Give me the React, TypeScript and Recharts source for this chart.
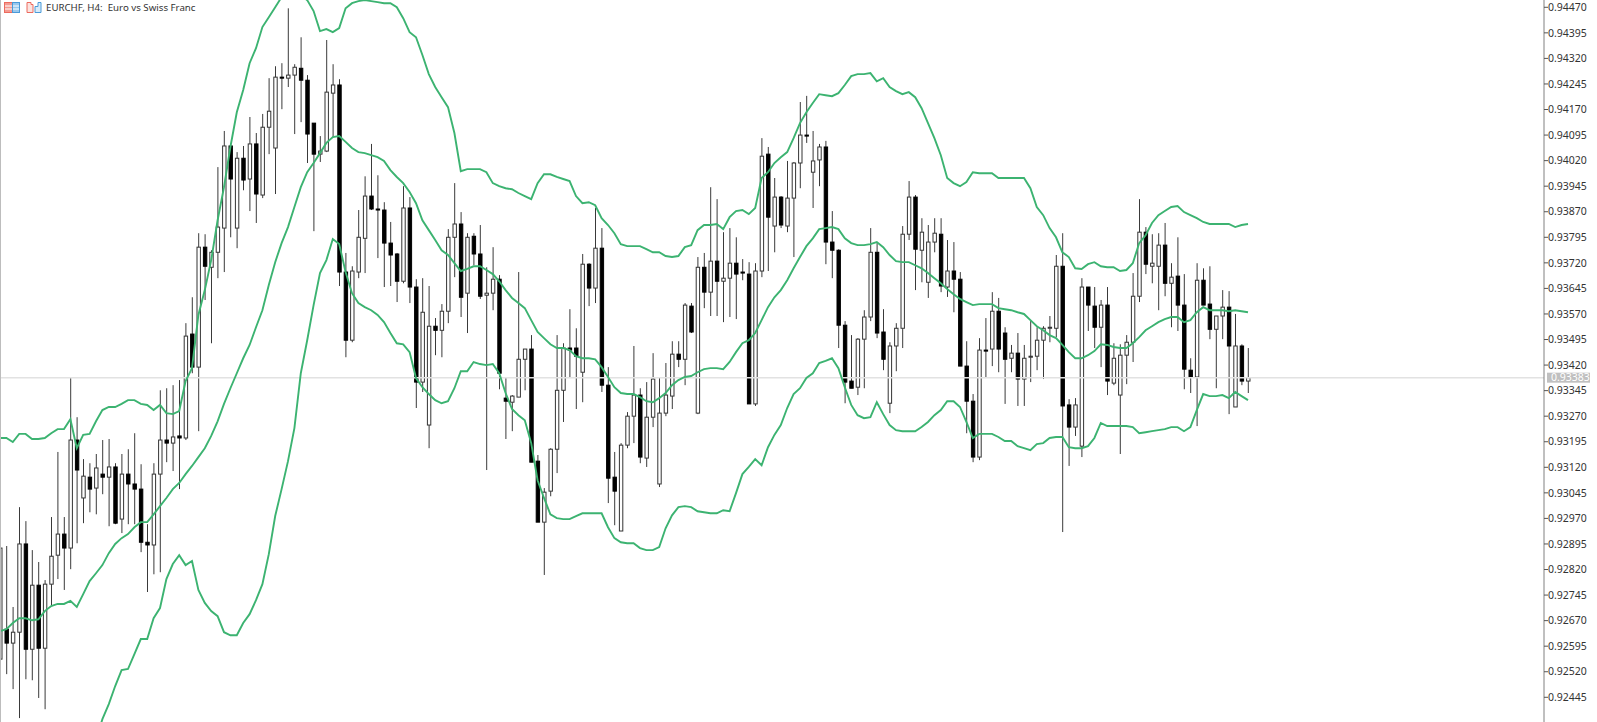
import { Bar, ComposedChart, Line, ReferenceLine, XAxis, YAxis } from 'recharts'

// prices are kept in points: 1 point = 0.00001
const opens = [
  92557, 92645, 92604, 92636, 92895, 92586, 92774, 92589, 92777, 92862, 92924, 92883, 93200, 93030,
  93091, 93059, 93100, 93091, 93121, 92968, 93100, 93071, 93056, 92900, 92892, 93100, 93200, 93191,
  93212, 93206, 93511, 93414, 93766, 93707, 93751, 93822, 94063, 93822, 94027, 93966, 94069, 93919,
  94118, 94057, 94265, 94262, 94271, 94291, 94256, 94130, 94039, 94048, 94218, 94242, 93693, 93493,
  93693, 93792, 93916, 93878, 93875, 93778, 93746, 93666, 93881, 93649, 93370, 93244, 93534, 93522,
  93578, 93795, 93834, 93631, 93798, 93746, 93625, 93631, 93672, 93323, 93311, 93326, 93437, 93467,
  93138, 92959, 93050, 93173, 93346, 93470, 93470, 93399, 93716, 93646, 93763, 93361, 93091, 92933,
  93185, 93270, 93332, 93147, 93267, 93071, 93279, 93329, 93452, 93437, 93593, 93279, 93707, 93634,
  93725, 93666, 93675, 93719, 93693, 93687, 93306, 93696, 94039, 93828, 93913, 93828, 93910, 94013,
  94095, 93986, 94022, 94060, 93781, 93757, 93537, 93373, 93355, 93496, 93561, 93751, 93517, 93308,
  93476, 93528, 93804, 93913, 93757, 93663, 93781, 93804, 93649, 93696, 93672, 93417, 93314, 93150,
  93464, 93467, 93578, 93514, 93440, 93455, 93379, 93443, 93446, 93493, 93528, 93528, 93710, 93303,
  93238, 93182, 93649, 93593, 93531, 93596, 93367, 93332, 93449, 93487, 93622, 93810, 93710, 93710,
  93772, 93660, 93681, 93596, 93405, 93385, 93669, 93599, 93525, 93564, 93590, 93297, 93476, 93373,
]
const highs = [
  92892, 92889, 92710, 93003, 92962, 92877, 92842, 92789, 92974, 93165, 92974, 93382, 93267, 93144,
  93132, 93159, 93200, 93203, 93132, 93159, 93173, 93220, 93129, 92953, 93132, 93346, 93352, 93361,
  93376, 93543, 93619, 93807, 93804, 93757, 94001, 94107, 94066, 94045, 94063, 94148, 94101, 94157,
  94262, 94297, 94306, 94467, 94303, 94382, 94271, 94130, 94092, 94374, 94303, 94259, 93749, 93710,
  93875, 93974, 94069, 93977, 93898, 93840, 93749, 93945, 93913, 93672, 93675, 93652, 93558, 93599,
  93819, 93954, 93869, 93807, 93807, 93831, 93707, 93766, 93684, 93382, 93332, 93693, 93467, 93508,
  93156, 93059, 93176, 93508, 93484, 93584, 93528, 93746, 93719, 93881, 93822, 93414, 93165, 93191,
  93282, 93476, 93352, 93370, 93455, 93382, 93426, 93490, 93490, 93602, 93602, 93737, 93749, 93942,
  93907, 93810, 93822, 93795, 93731, 93722, 93719, 94086, 94060, 93969, 93916, 94019, 94016, 94192,
  94210, 94107, 94069, 94078, 93872, 93760, 93549, 93508, 93499, 93581, 93822, 93778, 93584, 93487,
  93543, 93828, 93960, 93919, 93851, 93831, 93851, 93851, 93787, 93781, 93693, 93490, 93335, 93499,
  93558, 93634, 93617, 93531, 93479, 93514, 93479, 93552, 93531, 93534, 93564, 93743, 93807, 93320,
  93323, 93675, 93649, 93649, 93611, 93649, 93484, 93481, 93508, 93690, 93907, 93825, 93804, 93807,
  93837, 93719, 93795, 93687, 93440, 93719, 93704, 93710, 93564, 93640, 93637, 93570, 93481, 93470,
]
const lows = [
  92531, 92513, 92469, 92384, 92498, 92495, 92443, 92410, 92713, 92792, 92760, 92821, 92897, 92956,
  92988, 92982, 93041, 92947, 92953, 92927, 92953, 92953, 92871, 92754, 92806, 92812, 93135, 93109,
  93056, 93200, 93396, 93226, 93611, 93484, 93675, 93693, 93795, 93763, 93933, 93872, 93837, 93910,
  94039, 93922, 94171, 94236, 94098, 94133, 94013, 93813, 94016, 94045, 94089, 93652, 93443, 93487,
  93675, 93690, 93875, 93734, 93649, 93652, 93605, 93660, 93602, 93294, 93341, 93176, 93449, 93443,
  93543, 93678, 93561, 93514, 93713, 93614, 93112, 93581, 93349, 93203, 93226, 93326, 93346, 93135,
  92959, 92804, 93035, 93103, 93253, 93382, 93291, 93311, 93593, 93602, 93341, 93015, 92950, 92933,
  93176, 93191, 93132, 93121, 93238, 93062, 93270, 93291, 93414, 93361, 93514, 93276, 93587, 93564,
  93564, 93546, 93561, 93555, 93669, 93306, 93300, 93678, 93696, 93751, 93822, 93810, 93737, 93939,
  94072, 93881, 93945, 93716, 93675, 93470, 93308, 93352, 93332, 93352, 93549, 93499, 93405, 93279,
  93402, 93470, 93787, 93640, 93663, 93617, 93751, 93634, 93620, 93575, 93417, 93220, 93135, 93141,
  93382, 93417, 93399, 93306, 93399, 93300, 93300, 93370, 93405, 93379, 93487, 93502, 92930, 93124,
  93212, 93150, 93520, 93470, 93414, 93332, 93361, 93159, 93364, 93429, 93605, 93687, 93660, 93581,
  93622, 93531, 93520, 93349, 93338, 93241, 93596, 93496, 93352, 93496, 93276, 93297, 93361, 93338,
]
const closes = [
  92883, 92604, 92636, 92895, 92586, 92774, 92589, 92777, 92859, 92924, 92883, 93200, 93112, 93094,
  93056, 93118, 93091, 93121, 92956, 93100, 93071, 93056, 92900, 92892, 93100, 93200, 93191, 93209,
  93206, 93505, 93414, 93766, 93710, 93751, 93825, 94063, 93966, 94027, 93963, 94069, 93922, 94118,
  94165, 94265, 94262, 94271, 94294, 94256, 94098, 94039, 94048, 94221, 94242, 93693, 93493, 93696,
  93795, 93916, 93878, 93875, 93778, 93743, 93666, 93881, 93649, 93370, 93575, 93534, 93522, 93578,
  93795, 93834, 93619, 93795, 93746, 93622, 93631, 93672, 93396, 93314, 93329, 93437, 93467, 93135,
  92959, 93047, 93173, 93346, 93470, 93464, 93446, 93716, 93646, 93763, 93361, 93088, 93050, 93185,
  93270, 93332, 93150, 93267, 93379, 93279, 93332, 93452, 93437, 93596, 93517, 93707, 93634, 93725,
  93666, 93675, 93719, 93687, 93690, 93306, 93696, 94033, 93854, 93913, 93831, 93910, 94013, 94095,
  94092, 94019, 94060, 93781, 93757, 93537, 93370, 93352, 93496, 93561, 93751, 93514, 93437, 93476,
  93528, 93804, 93913, 93760, 93810, 93781, 93807, 93652, 93696, 93672, 93417, 93314, 93150, 93464,
  93461, 93578, 93467, 93437, 93455, 93379, 93440, 93446, 93493, 93528, 93531, 93710, 93300, 93238,
  93303, 93649, 93596, 93531, 93596, 93373, 93440, 93449, 93487, 93622, 93810, 93716, 93719, 93772,
  93660, 93678, 93596, 93408, 93385, 93669, 93596, 93525, 93564, 93590, 93476, 93476, 93373, 93383,
]

const upperBand = [
  93206, 93206, 93194, 93218, 93218, 93203, 93203, 93206, 93220, 93232, 93232, 93261, 93176, 93215,
  93218, 93255, 93288, 93297, 93297, 93306, 93317, 93317, 93306, 93303, 93288, 93303, 93279, 93276,
  93285, 93373, 93411, 93567, 93640, 93728, 93845, 93942, 94060, 94162, 94227, 94306, 94350, 94412,
  94441, 94470, 94500, 94520, 94520, 94506, 94491, 94459, 94400, 94406, 94397, 94409, 94467, 94482,
  94488, 94491, 94488, 94485, 94482, 94482, 94470, 94438, 94397, 94382, 94330, 94274, 94236, 94206,
  94177, 94101, 93989, 93995, 93995, 93995, 93986, 93954, 93945, 93939, 93936, 93925, 93916, 93907,
  93954, 93980, 93980, 93972, 93966, 93960, 93916, 93895, 93898, 93889, 93851, 93831, 93807, 93775,
  93769, 93769, 93769, 93760, 93751, 93751, 93740, 93737, 93740, 93766, 93772, 93816, 93831, 93831,
  93834, 93819, 93854, 93872, 93875, 93863, 93881, 93969, 93986, 94013, 94030, 94045, 94086, 94130,
  94162, 94189, 94215, 94212, 94209, 94218, 94242, 94268, 94274, 94274, 94277, 94253, 94262, 94236,
  94224, 94215, 94221, 94206, 94174, 94130, 94086, 94036, 93969, 93954, 93945, 93957, 93986, 93983,
  93983, 93983, 93969, 93969, 93969, 93969, 93969, 93939, 93884, 93860, 93822, 93795, 93751, 93737,
  93704, 93702, 93716, 93722, 93710, 93707, 93707, 93696, 93699, 93719, 93778, 93801, 93837, 93860,
  93872, 93884, 93887, 93869, 93860, 93851, 93840, 93834, 93834, 93834, 93834, 93825, 93831, 93834,
]
const middleBand = [
  92639, 92645, 92663, 92677, 92677, 92671, 92674, 92698, 92713, 92719, 92719, 92728, 92710, 92748,
  92786, 92809, 92833, 92868, 92895, 92912, 92924, 92944, 92959, 92959, 92982, 93006, 93030, 93056,
  93074, 93100, 93124, 93150, 93176, 93212, 93255, 93306, 93352, 93396, 93440, 93479, 93531, 93581,
  93655, 93722, 93778, 93825, 93884, 93942, 93986, 94013, 94042, 94072, 94089, 94092, 94075, 94057,
  94045, 94042, 94036, 94030, 94019, 93992, 93972, 93954, 93928, 93895, 93845, 93816, 93787, 93757,
  93743, 93719, 93696, 93702, 93710, 93710, 93699, 93687, 93666, 93640, 93617, 93602, 93587, 93552,
  93517, 93499, 93481, 93470, 93470, 93464, 93446, 93440, 93440, 93437, 93414, 93385, 93355, 93338,
  93335, 93335, 93326, 93314, 93311, 93323, 93338, 93361, 93376, 93385, 93388, 93399, 93408, 93411,
  93411, 93408, 93429, 93458, 93484, 93493, 93514, 93552, 93590, 93619, 93640, 93669, 93704, 93737,
  93769, 93792, 93819, 93822, 93825, 93819, 93792, 93778, 93772, 93772, 93775, 93781, 93766, 93743,
  93725, 93722, 93722, 93713, 93704, 93690, 93675, 93660, 93643, 93628, 93614, 93605, 93596, 93599,
  93599, 93599, 93587, 93584, 93581, 93575, 93570, 93552, 93534, 93522, 93508, 93499, 93479, 93458,
  93440, 93440, 93449, 93461, 93481, 93479, 93473, 93470, 93470, 93484, 93502, 93522, 93534, 93546,
  93555, 93561, 93561, 93546, 93552, 93575, 93590, 93581, 93581, 93581, 93578, 93581, 93578, 93575,
]
// the first 15 bars of the lower band sit below the visible window
const lowerBand = [
  null, null, null, null, null, null, null, null, null, null, null, null, null, null,
  null, 92319, 92381, 92425, 92478, 92525, 92528, 92572, 92616, 92616, 92677, 92707, 92792, 92836,
  92862, 92833, 92845, 92760, 92722, 92698, 92683, 92636, 92627, 92627, 92663, 92689, 92730, 92777,
  92865, 92977, 93056, 93138, 93235, 93396, 93493, 93596, 93690, 93728, 93790, 93775, 93693, 93631,
  93602, 93590, 93581, 93567, 93546, 93514, 93484, 93481, 93458, 93382, 93355, 93335, 93317, 93308,
  93314, 93352, 93402, 93402, 93429, 93423, 93420, 93423, 93396, 93338, 93291, 93273, 93258, 93191,
  93082, 93030, 92982, 92971, 92968, 92968, 92977, 92985, 92985, 92985, 92985, 92944, 92912, 92900,
  92897, 92897, 92883, 92877, 92877, 92886, 92941, 92979, 93003, 93006, 93003, 92991, 92988, 92985,
  92985, 92994, 92991, 93044, 93100, 93121, 93144, 93126, 93179, 93215, 93244, 93294, 93335, 93352,
  93382, 93396, 93426, 93432, 93440, 93411, 93355, 93303, 93273, 93264, 93267, 93311, 93276, 93244,
  93229, 93226, 93226, 93226, 93238, 93253, 93273, 93288, 93314, 93314, 93297, 93253, 93206, 93218,
  93218, 93218, 93209, 93197, 93197, 93182, 93176, 93170, 93188, 93191, 93206, 93209, 93209, 93179,
  93176, 93176, 93182, 93206, 93250, 93241, 93241, 93241, 93241, 93238, 93220, 93223, 93226, 93229,
  93232, 93238, 93238, 93226, 93238, 93288, 93335, 93329, 93329, 93332, 93323, 93341, 93329, 93317,
]

const priceTicks = [
  94470, 94395, 94320, 94245, 94170, 94095, 94020, 93945, 93870, 93795, 93720, 93645, 93570, 93495,
  93420, 93345, 93270, 93195, 93120, 93045, 92970, 92895, 92820, 92745, 92670, 92595, 92520, 92445,
]
const lastPrice = 93383

const WIDTH = 1597
const HEIGHT = 722
const FONT = '"Noto Sans", sans-serif'
const BAND_COLOR = '#3cb371'

const rows = opens.map((open, i) => ({
  i,
  open,
  close: closes[i],
  range: [lows[i], highs[i]],
  upper: upperBand[i],
  middle: middleBand[i],
  lower: lowerBand[i],
}))

const fmtPrice = (v: number) => (v / 100000).toFixed(5)

function Candle(props: any) {
  const { x, y, width, height, payload } = props
  const [low, high] = payload.range
  const perPoint = height / (high - low)
  const top = y + (high - Math.max(payload.open, payload.close)) * perPoint
  const bottom = y + (high - Math.min(payload.open, payload.close)) * perPoint
  const cx = x + width / 2
  const bullish = payload.close >= payload.open
  return (
    <g>
      <line x1={cx} x2={cx} y1={y} y2={y + height} stroke="#3a3a3a" strokeWidth={1} />
      <rect
        x={cx - 1.7}
        y={top}
        width={3.4}
        height={Math.max(bottom - top, 1)}
        fill={bullish ? '#ffffff' : '#000000'}
        stroke={bullish ? '#333333' : '#000000'}
        strokeWidth={1}
      />
    </g>
  )
}

function PriceTag({ viewBox }: any) {
  const left = viewBox.x + viewBox.width + 3
  return (
    <g>
      <rect x={left} y={viewBox.y - 5} width={43} height={10} fill="#c0c0c0" />
      <text x={left + 4} y={viewBox.y + 3.5} fontSize={10.5} fontFamily={FONT} fill="#ffffff">
        {fmtPrice(lastPrice)}
      </text>
    </g>
  )
}

function Icons() {
  return (
    <svg width={44} height={16} style={{ position: 'absolute', left: 2, top: 0 }}>
      <rect x={2.5} y={2.5} width={8} height={10} fill="#f49a90" stroke="#ec6a5e" />
      <rect x={10.5} y={2.5} width={7} height={10} fill="#98c8ee" stroke="#4a9ad8" />
      <path d="M3 6h7M3 9h7M11 6h6M11 9h6" stroke="#ffffff" strokeWidth={1} />
      <path d="M25 2.5h4v2h2v8h-6z" fill="#fbe3df" stroke="#ec6a5e" />
      <path d="M33 6.5h3v-4h3v10h-6z" fill="#d8ebf9" stroke="#4a9ad8" />
    </svg>
  )
}

export default function App() {
  return (
    <div style={{ position: 'fixed', left: 0, top: 0, width: WIDTH, height: HEIGHT, background: '#fff', overflow: 'hidden' }}>
      <ComposedChart width={WIDTH} height={HEIGHT} data={rows} margin={{ top: 0, right: 0, bottom: 0, left: 0 }}>
        <XAxis dataKey="i" type="number" domain={[0, 241.25]} allowDataOverflow hide />
        <YAxis
          orientation="right"
          width={53}
          domain={[92372.5, 94491.4]}
          allowDataOverflow
          ticks={priceTicks}
          interval={0}
          tickFormatter={fmtPrice}
          tick={{ fontSize: 10.5, fill: '#333333', fontFamily: FONT }}
          tickSize={4}
          tickMargin={0}
          axisLine={{ stroke: '#808080', strokeWidth: 1 }}
          tickLine={{ stroke: '#555555' }}
        />
        <ReferenceLine y={lastPrice} stroke="#e2e2e2" strokeWidth={1.5} label={<PriceTag />} />
        <Line dataKey="upper" stroke={BAND_COLOR} strokeWidth={1.9} dot={false} connectNulls isAnimationActive={false} />
        <Line dataKey="middle" stroke={BAND_COLOR} strokeWidth={1.9} dot={false} connectNulls isAnimationActive={false} />
        <Line dataKey="lower" stroke={BAND_COLOR} strokeWidth={1.9} dot={false} connectNulls isAnimationActive={false} />
        <Bar dataKey="range" barSize={5} shape={<Candle />} isAnimationActive={false} />
      </ComposedChart>
      <div style={{ position: 'absolute', left: 0, top: 0, width: 1, height: HEIGHT, background: '#bdbdbd' }} />
      <Icons />
      <span
        style={{
          position: 'absolute',
          left: 46,
          top: 1,
          fontFamily: FONT,
          fontSize: 9.7,
          lineHeight: '14px',
          color: '#333333',
          whiteSpace: 'pre',
        }}
      >
        {'EURCHF, H4:  Euro vs Swiss Franc'}
      </span>
    </div>
  )
}
